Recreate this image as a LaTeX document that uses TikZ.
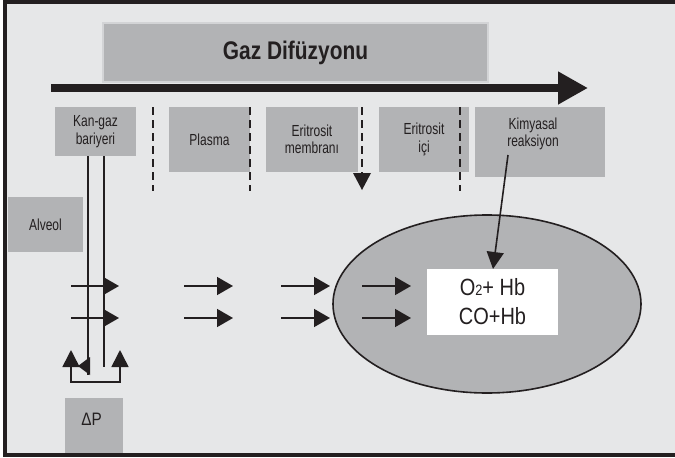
\documentclass[tikz,border=0pt]{standalone}
\usepackage{fontspec}
\setmainfont{Liberation Sans}[FakeStretch=0.85]
\newfontfamily\condfont{Liberation Sans}[FakeStretch=0.75]
\newfontfamily\titlefont{Liberation Sans}[FakeStretch=0.82]
\usetikzlibrary{arrows.meta,shapes.geometric}
\definecolor{bggray}{HTML}{E6E7E8}
\definecolor{boxgray}{HTML}{B2B3B5}
\definecolor{titleedge}{HTML}{D3D4D6}
\definecolor{ink}{HTML}{231F20}
\tikzset{
  graybox/.style={fill=boxgray, draw=none, inner sep=0pt, align=center, text=ink, font=\condfont\fontsize{16}{17.5}\selectfont},
  txt/.style={inner sep=0pt, align=center, text=ink, font=\condfont\fontsize{16}{17.5}\selectfont},
  dashline/.style={ink, line width=2pt, dash pattern=on 8pt off 5pt},
  flow/.style={ink, line width=1.6pt, -{Triangle[length=16pt,width=18pt]}},
  thinline/.style={ink, line width=2pt},
  frame/.style={ink, line width=4pt},
}
\begin{document}
\begin{tikzpicture}[x=1pt,y=-1pt]
\useasboundingbox (0,0) rectangle (675,458);
\fill[white] (0,0) rectangle (675,458);
\fill[bggray] (5,2) rectangle (675,455);

% title
\node[fill=boxgray, draw=titleedge, line width=1.5pt, minimum width=385pt, minimum height=59pt, inner sep=0pt,
      font=\titlefont\fontsize{25.5}{28}\selectfont\bfseries, text=ink] (title) at (295.5,52.5) {Gaz Difüzyonu};

% big arrow
\coordinate (bigS) at (51,88);
\coordinate (bigE) at (588,88);
\draw[ink, line width=8pt, -{Triangle[length=30pt,width=31pt]}] (bigS) -- (bigE);

% top boxes
\node[graybox, minimum width=81pt, minimum height=49pt] (kan) at (95.5,131.5) {Kan-gaz\\bariyeri};
\node[graybox, minimum width=81pt, minimum height=65pt] (plasma) at (209.5,139.5) {Plasma};
\node[graybox, minimum width=92pt, minimum height=65pt] (memb) at (312,139.5) {Eritrosit\\membranı};
\node[graybox, minimum width=90pt, minimum height=65pt] (ici) at (424,139.5) {Eritrosit\\içi};
\node[graybox, minimum width=130pt, minimum height=70pt] (kim) at (540,142) {};
\node[txt] (kimtxt) at (533,134) {Kimyasal\\reaksiyon};

% dashed separators
\coordinate (d1a) at (153,107); \coordinate (d1b) at (153,191);
\coordinate (d2a) at (250,107); \coordinate (d2b) at (250,191);
\coordinate (d3a) at (362,107); \coordinate (d3b) at (362,173);
\coordinate (d3c) at (362,190);
\coordinate (d4a) at (460,107); \coordinate (d4b) at (460,191);
\draw[dashline] (d1a) -- (d1b);
\draw[dashline] (d2a) -- (d2b);
\draw[dashline] (d3a) -- (d3b);
\draw[dashline] (d4a) -- (d4b);
\fill[ink] (353,173) -- (371,173) -- (d3c) -- cycle;

% alveol
\node[graybox, minimum width=75pt, minimum height=55pt] (alv) at (45.5,224.5) {Alveol};

% ellipse
\node[ellipse, draw=ink, fill=boxgray, line width=1.6pt, inner sep=0pt, minimum width=308pt, minimum height=178pt] (ell) at (487,304) {};

% white box
\node[fill=white, minimum width=131pt, minimum height=66pt, inner sep=0pt, align=center, text=ink,
      font=\fontsize{23.5}{29}\selectfont] (hb) at (492.5,302) {O{\fontsize{15}{15}\selectfont 2}+ Hb\\CO+Hb};

% reaction arrow
\coordinate (kimS) at (508,155);
\coordinate (kimE) at (493,269);
\draw[ink, line width=1.6pt, -{Triangle[length=17pt,width=17pt]}] (kimS) -- (kimE);

% barrier lines
\coordinate (v1a) at (88,156); \coordinate (v1b) at (88,375);
\coordinate (v2a) at (104,156); \coordinate (v2b) at (104,367);
\draw[thinline] (v1a) -- (v1b);
\draw[thinline] (v2a) -- (v2b);
\fill[ink] (90,357) -- (78,366) -- (90,375) -- cycle;

% horizontal flow arrows
\foreach \y in {286,318} {
  \foreach \xs/\xe [count=\i] in {71/119,184/233,281/330,362/411} {
    \coordinate (s\i-\y) at (\xs,\y);
    \coordinate (e\i-\y) at (\xe,\y);
    \draw[flow] (s\i-\y) -- (e\i-\y);
  }
}

% pressure bracket
\coordinate (bL) at (71,350);
\coordinate (bR) at (120,350);
\draw[ink, line width=1.6pt, {Triangle[length=17pt,width=17pt]}-{Triangle[length=17pt,width=17pt]}]
  (bL) -- (71,382) -- (120,382) -- (bR);

% delta P
\node[graybox, minimum width=58pt, minimum height=55pt] (dp) at (94,425.5) {};
\node[txt, font=\fontsize{18}{20}\selectfont] (dptxt) at (91.5,419) {ΔP};

% frame
\draw[frame] (675,2) -- (5,2) -- (5,455) -- (675,455);
\end{tikzpicture}
\end{document}
